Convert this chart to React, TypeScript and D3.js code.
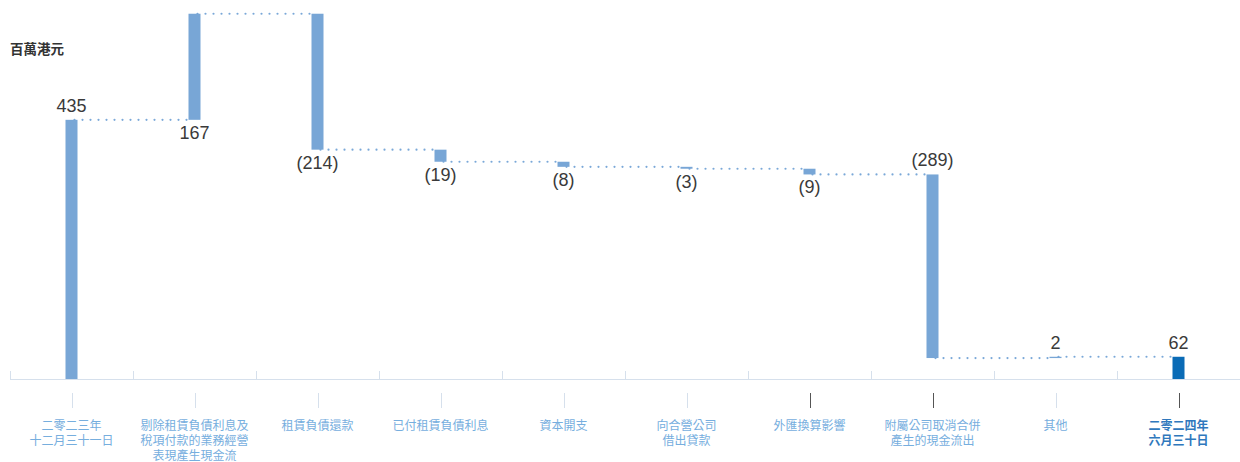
import { useEffect, useRef } from 'react';
import * as d3 from 'd3';

// --- Data ---
const categories: string[][] = [
    ['二零二三年', '十二月三十一日'],
    ['剔除租賃負債利息及', '稅項付款的業務經營', '表現產生現金流'],
    ['租賃負債還款'],
    ['已付租賃負債利息'],
    ['資本開支'],
    ['向合營公司', '借出貸款'],
    ['外匯換算影響'],
    ['附屬公司取消合併', '產生的現金流出'],
    ['其他'],
    ['二零二四年', '六月三十日'],
];
const values = [435, 167, -214, -19, -8, -3, -9, -289, 2, 62];
const isTotal = [true, false, false, false, false, false, false, false, false, true];
const labels = ['435', '167', '(214)', '(19)', '(8)', '(3)', '(9)', '(289)', '2', '62'];
const labelAbove = [true, false, false, false, false, false, false, true, true, true];
const darkTicks = [6, 7, 9];
const unitLabel = '百萬港元';
// axis does not start at zero in the original
const yDomain: [number, number] = [27, 600];

const W = 1240;
const H = 462;
const BASE_Y = 379;
const TOP_Y = 15;
const BAR_W = 12;

const BAR_COLOR = '#78a6d6';
const TOTAL_COLOR = '#0a6bb6';
const DOT_COLOR = '#7aa8d8';
const AXIS_COLOR = '#d6e0ec';
const LABEL_COLOR = '#76aede';

const App = () => {
    const svgRef = useRef<SVGSVGElement>(null);

    useEffect(() => {
        document.body.style.margin = '0';
        if (!svgRef.current) return;
        const svg = d3.select(svgRef.current);
        svg.selectAll('*').remove();

        const keys = categories.map((_, i) => String(i));
        const x = d3.scaleBand().domain(keys).range([10, W]).paddingInner(0).paddingOuter(0);
        const y = d3.scaleLinear().domain(yDomain).range([BASE_Y, TOP_Y]);
        const cx = (i: number) => (x(String(i)) as number) + x.bandwidth() / 2;

        // running totals -> [start, end] for each bar
        let run = 0;
        const bars = values.map((v, i) => {
            let s: number, e: number;
            if (isTotal[i]) {
                s = yDomain[0];
                e = v;
                run = v;
            } else {
                s = run;
                e = run + v;
                run = e;
            }
            const top = Math.min(y(s), y(e));
            const bot = Math.max(y(s), y(e));
            return { i, s, e, top, bot };
        });

        // axis line + upper ticks at band edges
        svg.append('line')
            .attr('x1', 10).attr('x2', W)
            .attr('y1', BASE_Y + 0.5).attr('y2', BASE_Y + 0.5)
            .attr('stroke', AXIS_COLOR).attr('stroke-width', 1.2);
        keys.forEach((k) => {
            const xx = Math.round(x(k) as number) + 0.5;
            svg.append('line')
                .attr('x1', xx).attr('x2', xx)
                .attr('y1', BASE_Y - 8).attr('y2', BASE_Y)
                .attr('stroke', AXIS_COLOR).attr('stroke-width', 1);
        });

        // lower ticks at band centres
        keys.forEach((_, i) => {
            const xx = Math.round(cx(i)) + 0.5;
            svg.append('line')
                .attr('x1', xx).attr('x2', xx)
                .attr('y1', 393).attr('y2', 408)
                .attr('stroke', darkTicks.includes(i) ? '#555' : AXIS_COLOR)
                .attr('stroke-width', 1);
        });

        // dotted connectors
        for (let i = 0; i < bars.length - 1; i++) {
            const yy = y(bars[i].e);
            svg.append('line')
                .attr('x1', cx(i) + 3).attr('x2', cx(i + 1))
                .attr('y1', yy).attr('y2', yy)
                .attr('stroke', DOT_COLOR)
                .attr('stroke-width', 2.2)
                .attr('stroke-linecap', 'round')
                .attr('stroke-dasharray', '0,8');
        }

        // bars
        svg.append('g').selectAll('rect')
            .data(bars)
            .join('rect')
            .attr('x', (d) => cx(d.i) - BAR_W / 2)
            .attr('y', (d) => d.top)
            .attr('width', BAR_W)
            .attr('height', (d) => Math.max(1.3, d.bot - d.top))
            .attr('fill', (d) => (isTotal[d.i] && d.i > 0 ? TOTAL_COLOR : BAR_COLOR));

        // value labels
        svg.append('g').selectAll('text')
            .data(bars)
            .join('text')
            .attr('x', (d) => cx(d.i))
            .attr('y', (d) => (labelAbove[d.i] ? d.top - 8 : d.bot + 19))
            .attr('text-anchor', 'middle')
            .attr('font-family', '"Liberation Sans", Arial, sans-serif')
            .attr('font-size', 18)
            .attr('fill', '#3a3a3a')
            .text((d) => labels[d.i]);

        // category labels
        categories.forEach((lines, i) => {
            const last = i === categories.length - 1;
            const t = svg.append('text')
                .attr('text-anchor', 'middle')
                .attr('font-family', '"Noto Sans CJK TC", "Noto Sans CJK SC", sans-serif')
                .attr('font-size', 12)
                .attr('font-weight', last ? 700 : 400)
                .attr('fill', last ? '#2f78bd' : LABEL_COLOR);
            lines.forEach((ln, j) => {
                t.append('tspan')
                    .attr('x', cx(i))
                    .attr('y', 430 + j * 15)
                    .text(ln);
            });
        });

        // unit title
        svg.append('text')
            .attr('x', 10).attr('y', 54)
            .attr('font-family', '"Noto Sans CJK TC", "Noto Sans CJK SC", sans-serif')
            .attr('font-size', 13.5)
            .attr('font-weight', 700)
            .attr('fill', '#333')
            .text(unitLabel);
    }, []);

    return (
        <svg
            ref={svgRef}
            width={W}
            height={H}
            style={{ position: 'absolute', top: 0, left: 0, display: 'block', background: '#fff' }}
        />
    );
};

export default App;
